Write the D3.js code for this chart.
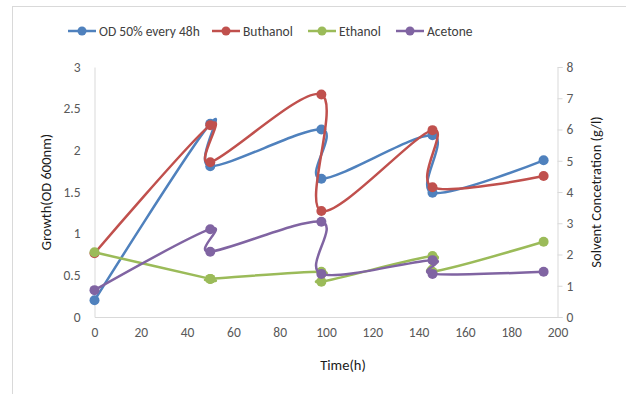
<!DOCTYPE html>
<html><head><meta charset="utf-8">
<script src="https://cdn.jsdelivr.net/npm/d3@7"></script>
<style>
body{margin:0;background:#fff;}
svg{display:block;font-family:Carlito,Lato,"Liberation Sans",sans-serif;}
</style></head>
<body><svg id="c" width="626" height="394"></svg>
<script>
const times = [0, 50, 50, 98, 98, 146, 146, 194];
const odValues = [0.2, 2.32, 1.81, 2.25, 1.66, 2.18, 1.49, 1.88];
const buthanolValues = [2.04, 6.14, 4.95, 7.12, 3.39, 5.98, 4.15, 4.51];
const ethanolValues = [2.07, 1.22, 1.22, 1.45, 1.13, 1.95, 1.45, 2.41];
const acetoneValues = [0.86, 2.81, 2.09, 3.05, 1.38, 1.82, 1.38, 1.45];
const xTicks = [0, 20, 40, 60, 80, 100, 120, 140, 160, 180, 200];
const leftTicks = [0, 0.5, 1, 1.5, 2, 2.5, 3];
const rightTicks = [0, 1, 2, 3, 4, 5, 6, 7, 8];
const seriesNames = ["OD 50% every 48h", "Buthanol", "Ethanol", "Acetone"];
const colors = ["#4f81bd", "#c0504d", "#9bbb59", "#8064a2"];

const svg = d3.select("#c");
svg.append("rect").attr("x",12.5).attr("y",6.5).attr("width",700).attr("height",500)
  .attr("fill","#fff").attr("stroke","#d9d9d9");

const x = d3.scaleLinear().domain([0,200]).range([94.5,557.5]);
const yL = d3.scaleLinear().domain([0,3]).range([317,67]);
const yR = d3.scaleLinear().domain([0,8]).range([317,67]);

const tickColor = "#595959";
const gx = svg.append("g").attr("transform","translate(0,317)")
  .call(d3.axisBottom(x).tickValues(xTicks).tickSize(0).tickPadding(10).tickFormat(d3.format("d")));
const gl = svg.append("g").attr("transform","translate(94.5,0)")
  .call(d3.axisLeft(yL).tickValues(leftTicks).tickSize(0).tickPadding(14).tickFormat(d=>d));
const gr = svg.append("g").attr("transform","translate(557.5,0)")
  .call(d3.axisRight(yR).tickValues(rightTicks).tickSize(5).tickPadding(4).tickFormat(d3.format("d")));
[gx,gl,gr].forEach(g=>{
  g.select(".domain").attr("stroke","#d9d9d9").attr("stroke-width",1);
  g.selectAll(".tick line").attr("stroke","#d9d9d9");
  g.selectAll(".tick text").attr("fill",tickColor).style("font-size","13.5px").style("font-family","Carlito,Lato,sans-serif");
});
gx.selectAll(".tick text").attr("dy","0.71em");

svg.append("text").attr("x",343).attr("y",370).attr("text-anchor","middle")
  .style("font-size","14.5px").attr("fill","#1a1a1a").text("Time(h)");
svg.append("text").attr("transform","translate(51,192) rotate(-90)").attr("text-anchor","middle")
  .style("font-size","14.5px").attr("fill","#1a1a1a").text("Growth(OD 600nm)");
svg.append("text").attr("transform","translate(601,192) rotate(-90)").attr("text-anchor","middle")
  .style("font-size","14.5px").attr("fill","#1a1a1a").text("Solvent Concetration (g/l)");

const series = [
  {vals: odValues, y: yL},
  {vals: buthanolValues, y: yR},
  {vals: ethanolValues, y: yR},
  {vals: acetoneValues, y: yR}
];
series.forEach((s,i)=>{
  const pts = times.map((t,j)=>[x(t), s.y(s.vals[j])]);
  const line = d3.line().curve(d3.curveCatmullRom.alpha(0));
  svg.append("path").attr("d", line(pts)).attr("fill","none")
    .attr("stroke",colors[i]).attr("stroke-width",2.5).attr("stroke-linejoin","round");
  svg.append("g").selectAll("circle").data(pts).join("circle")
    .attr("cx",d=>d[0]).attr("cy",d=>d[1]).attr("r",5).attr("fill",colors[i]);
});

const legendX = [68, 212, 308, 396];
const lg = svg.append("g");
seriesNames.forEach((n,i)=>{
  const lx = legendX[i];
  lg.append("line").attr("x1",lx).attr("x2",lx+28).attr("y1",31).attr("y2",31)
    .attr("stroke",colors[i]).attr("stroke-width",2.5);
  lg.append("circle").attr("cx",lx+14).attr("cy",31).attr("r",4.5).attr("fill",colors[i]);
  lg.append("text").attr("x",lx+31).attr("y",31).attr("dy","0.35em")
    .style("font-size","13.5px").attr("fill","#404040").text(n);
});
</script></body></html>
